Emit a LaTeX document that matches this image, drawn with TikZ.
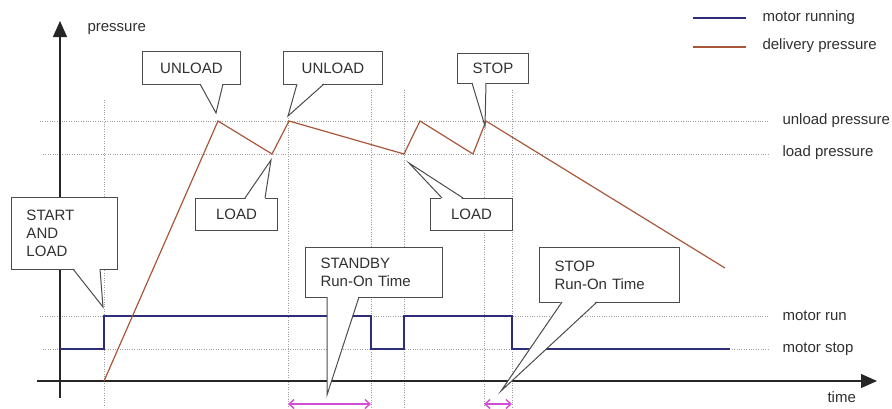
\documentclass[tikz,border=0pt]{standalone}
\usepackage{fontspec}
\setmainfont{Liberation Sans}
\usetikzlibrary{arrows.meta}

\definecolor{motorline}{HTML}{2E2E78}
\definecolor{pressline}{HTML}{A9573A}
\definecolor{runon}{HTML}{D24ED2}
\definecolor{textgray}{HTML}{303030}

\begin{document}
\begin{tikzpicture}[x=1pt,y=-1pt,>/.tip={Triangle[length=16pt,width=14pt]},
  font=\fontsize{15}{18}\selectfont,text=textgray,
  level/.style={gray!75,line width=0.8pt,dash pattern=on 1pt off 1.4pt},
  axis/.style={black!85,line width=1.2pt},
  note/.style={draw=black!70,fill=white,line width=1pt,anchor=north west,inner sep=0pt},
  longnote/.style={note,inner xsep=15pt,align=left},
  pointer/.style={draw=black!70,line width=1pt,line join=miter},
  runarrow/.style={runon,line width=1.4pt,{Straight Barb[length=5pt,width=9pt]}-{Straight Barb[length=5pt,width=9pt]}}]
\useasboundingbox (0,0) rectangle (892,408);

% levels
\draw[level] (40,121) -- (768,121);
\draw[level] (43,154) -- (768,154);
\draw[level] (40,316) -- (768,316);
\draw[level] (43,349) -- (768,349);
\draw[level] (104,100) -- (104,407);
\draw[level] (288,118) -- (288,407);
\draw[level] (371,90) -- (371,407);
\draw[level] (404,90) -- (404,407);
\draw[level] (484,127) -- (484,407);
\draw[level] (512,90) -- (512,407);

\node (unloadlvl) [anchor=west] at (779,121) {unload pressure};
\node (loadlvl)   [anchor=west] at (779,153) {load pressure};
\node (runlvl)    [anchor=west] at (779,316) {motor run};
\node (stoplvl)   [anchor=west] at (779,349) {motor stop};

% axes
\draw[axis,->] (60,398) -- (60,21);
\draw[axis,->] (37,381) -- (877,381);
\node (pressure) [anchor=west] at (84,29) {pressure};
\node (time)     [anchor=west] at (824,397) {time};

% motor running
\draw[motorline,line width=1.2pt] (60,349) -- (104,349) -- (104,316) -- (371,316)
  -- (371,349) -- (404,349) -- (404,316) -- (512,316) -- (512,349) -- (730,349);

% delivery pressure
\draw[pressline,line width=1.2pt] (104,381) -- (218,121) -- (272,154) -- (289,121)
  -- (404,154) -- (420,121) -- (473,154) -- (486,121) -- (725,268);

% legend
\draw[motorline,line width=1.2pt] (693,18) -- (746,18);
\draw[pressline,line width=1.2pt] (693,47) -- (746,47);
\node (legrun)   [anchor=west] at (759,18) {motor running};
\node (legpress) [anchor=west] at (759,46) {delivery pressure};

% run-on times
\draw[runarrow] (288,404) -- (371,404);
\draw[runarrow] (484,404) -- (512,404);

% callouts
\node (unloadA) [note,minimum width=98pt,minimum height=33pt] at (142,51) {UNLOAD};
\fill[white] (200,82.5) -- (216,113) -- (223,82.5) -- cycle;
\draw[pointer] (200,84) -- (216,113) -- (223,84);

\node (unloadB) [note,minimum width=99pt,minimum height=33pt] at (283,51) {UNLOAD};
\fill[white] (297,82.5) -- (288,116) -- (324,82.5) -- cycle;
\draw[pointer] (297,84) -- (288,116) -- (324,84);

\node (stop) [note,minimum width=71pt,minimum height=30pt] at (457,53) {STOP};
\fill[white] (472,81.5) -- (485,126) -- (486,81.5) -- cycle;
\draw[pointer] (472,83) -- (485,126) -- (486,83);

\node (loadA) [note,minimum width=82pt,minimum height=32pt] at (195,198) {LOAD};
\fill[white] (245,199.5) -- (271,160) -- (265,199.5) -- cycle;
\draw[pointer] (245,198) -- (271,160) -- (265,198);

\node (loadB) [note,minimum width=82pt,minimum height=32pt] at (430,198) {LOAD};
\fill[white] (442,199.5) -- (409,163) -- (463,199.5) -- cycle;
\draw[pointer] (442,198) -- (409,163) -- (463,198);

\node (start) [longnote,text width=76pt,minimum height=72pt] at (11,197) {START\\AND\\LOAD};
\fill[white] (73,267.5) -- (103,307) -- (100,267.5) -- cycle;
\draw[pointer] (73,269) -- (103,307) -- (100,269);

\node (standby) [longnote,text width=107pt,minimum height=50pt] at (305,247) {STANDBY\\Run-On Time};
\fill[white] (327,295.5) -- (327,395) -- (359,295.5) -- cycle;
\draw[pointer] (327,297) -- (327,395) -- (359,297);

\node (stoprun) [longnote,text width=110pt,minimum height=55pt] at (539,247) {STOP\\Run-On Time};
\fill[white] (562,300.5) -- (501,391) -- (597,300.5) -- cycle;
\draw[pointer] (562,302) -- (501,391) -- (597,302);

\end{tikzpicture}
\end{document}
